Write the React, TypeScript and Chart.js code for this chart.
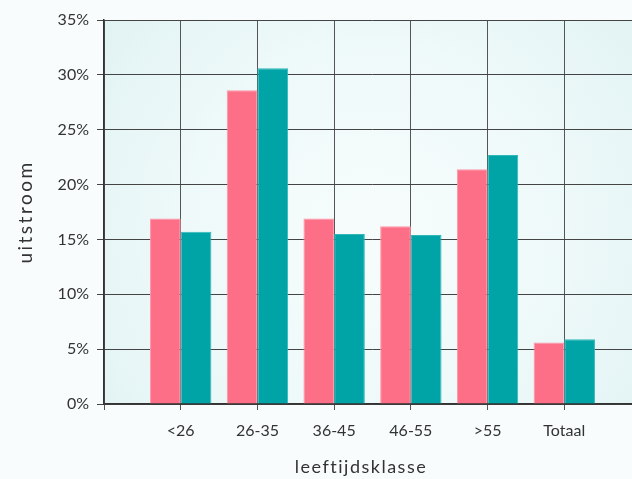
import React, { useEffect, useRef } from "react";
import { Chart, registerables } from "chart.js";

Chart.register(...registerables);

const categories = ["", "<26", "26-35", "36-45", "46-55", ">55", "Totaal", ""];
const seriesA = [null, 16.9, 28.6, 16.9, 16.2, 21.4, 5.6, null];
const seriesB = [null, 15.7, 30.6, 15.5, 15.4, 22.7, 5.9, null];
const yTicks = [0, 5, 10, 15, 20, 25, 30, 35];
const yTitle = "uitstroom";
const xTitle = "leeftijdsklasse";

const FONT = "Lato, 'Noto Sans', sans-serif";

const bgPlugin = {
  id: "plotBg",
  beforeDraw(chart: any) {
    const { ctx, chartArea } = chart;
    if (!chartArea) return;
    const { left, top, right, bottom } = chartArea;
    const cx = (left + right) / 2;
    const cy = (top + bottom) / 2 + 20;
    const g = ctx.createRadialGradient(cx, cy, 20, cx, cy, 360);
    g.addColorStop(0, "#f6fcfc");
    g.addColorStop(0.5, "#eef9f9");
    g.addColorStop(1, "#e0f2f3");
    ctx.save();
    ctx.fillStyle = g;
    ctx.fillRect(left, top, right - left, bottom - top);
    ctx.restore();
  },
  afterDraw(chart: any) {
    const { ctx, chartArea } = chart;
    ctx.save();
    ctx.translate(26, (chartArea.top + chartArea.bottom) / 2);
    ctx.rotate(-Math.PI / 2);
    ctx.font = `19px ${FONT}`;
    (ctx as any).letterSpacing = "2.5px";
    ctx.fillStyle = "#333";
    ctx.textAlign = "center";
    ctx.textBaseline = "middle";
    ctx.fillText(yTitle, 0, 0);
    ctx.restore();

    ctx.save();
    ctx.font = `18px ${FONT}`;
    (ctx as any).letterSpacing = "1.5px";
    ctx.fillStyle = "#333";
    ctx.textAlign = "center";
    ctx.textBaseline = "alphabetic";
    ctx.fillText(xTitle, 361, 473);
    ctx.restore();
  },
};

export default function App() {
  const ref = useRef<HTMLCanvasElement>(null);
  useEffect(() => {
    if (!ref.current) return;
    const chart = new Chart(ref.current, {
      type: "bar",
      data: {
        labels: categories,
        datasets: [
          {
            label: "A",
            data: seriesA as any,
            backgroundColor: "#fc6f87",
            borderColor: "#fd95a7",
            borderWidth: 1,
            categoryPercentage: 0.8,
            barPercentage: 1.0,
          },
          {
            label: "B",
            data: seriesB as any,
            backgroundColor: "#00a4a6",
            borderColor: "#30b8b9",
            borderWidth: 1,
            categoryPercentage: 0.8,
            barPercentage: 1.0,
          },
        ],
      },
      options: {
        responsive: false,
        animation: false,
        layout: { padding: { top: 20, right: 0, left: 0, bottom: 0 } },
        plugins: { legend: { display: false }, tooltip: { enabled: false } },
        scales: {
          x: {
            offset: false,
            grid: {
              offset: false,
              color: "#555",
              lineWidth: 1,
              tickLength: 6,
              drawOnChartArea: true,
            },
            border: { color: "#333", width: 1.5 },
            ticks: {
              color: "#333",
              font: { family: FONT, size: 16 },
              padding: 11,
              maxRotation: 0,
              autoSkip: false,
            },
            afterFit(scale: any) {
              scale.height = 75;
            },
          },
          y: {
            min: 0,
            max: 35,
            afterBuildTicks(scale: any) {
              scale.ticks = yTicks.map((v) => ({ value: v }));
            },
            grid: { color: "#444", lineWidth: 1, tickLength: 7 },
            border: { color: "#333", width: 1.5 },
            ticks: {
              color: "#333",
              font: { family: FONT, size: 16 },
              padding: 8,
              callback: (v: any) => v + "%",
            },
            afterFit(scale: any) {
              scale.width = 104;
            },
          },
        },
      },
      plugins: [bgPlugin],
    });
    return () => chart.destroy();
  }, []);
  return (
    <div
      style={{
        position: "fixed",
        left: 0,
        top: 0,
        width: 632,
        height: 479,
        overflow: "hidden",
        background: "#f8fcfd",
      }}
    >
      <canvas ref={ref} width={652} height={479} style={{ display: "block" }} />
    </div>
  );
}
